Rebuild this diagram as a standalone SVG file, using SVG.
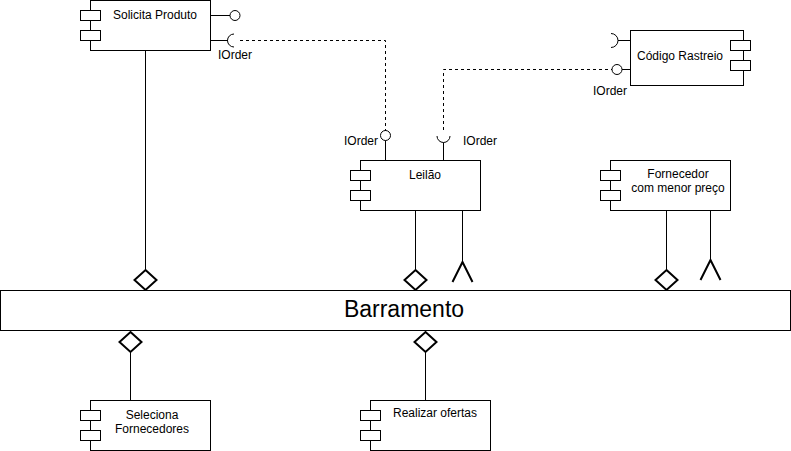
<svg xmlns="http://www.w3.org/2000/svg" width="791" height="451" viewBox="0 0 791 451">
<defs>
<style>
.box{fill:#fff;stroke:#000;stroke-width:1}
.ico{fill:#fff;stroke:#000;stroke-width:1}
.t{font-family:"Liberation Sans",Arial,sans-serif;font-size:12px;fill:#000}
.c{text-anchor:middle}
.ln{fill:none;stroke:#000;stroke-width:1}
.dash{fill:none;stroke:#000;stroke-width:1;stroke-dasharray:3 3}
.dia{fill:#fff;stroke:#000;stroke-width:2}
.arr{fill:none;stroke:#000;stroke-width:2}
</style>
</defs>
<rect width="791" height="451" fill="#fff"/>
<g id="connectors">
<path class="ln" d="M145.5,50 V270"/>
<polygon class="dia" points="145.5,270 156.5,280 145.5,290 134.5,280"/>
<path class="ln" d="M415.5,210 V270"/>
<polygon class="dia" points="415.5,270 426.5,280 415.5,290 404.5,280"/>
<path class="ln" d="M462.5,210 V262"/>
<polyline class="arr" points="452.5,282 462.5,262 472.5,282"/>
<path class="ln" d="M666.5,210 V270"/>
<polygon class="dia" points="666.5,270 677.5,280 666.5,290 655.5,280"/>
<path class="ln" d="M710.5,210 V260"/>
<polyline class="arr" points="700.5,280 710.5,260 720.5,280"/>
<polygon class="dia" points="130.5,332 141.5,342 130.5,352 119.5,342"/>
<path class="ln" d="M130.5,352 V400" stroke="#555"/>
<polygon class="dia" points="425.5,332 436.5,342 425.5,352 414.5,342"/>
<path class="ln" d="M425.5,352 V400"/>
<path class="dash" d="M240,40.5 H385.5 V131"/>
<path class="dash" d="M443.5,130 V69.5 H612"/>
</g>
<g id="solicita-produto">
<rect class="box" x="90.5" y="0.5" width="120" height="50"/>
<rect class="ico" x="80.5" y="10.5" width="20" height="10"/>
<rect class="ico" x="80.5" y="30.5" width="20" height="10"/>
<text class="t c" x="155" y="19">Solicita Produto</text>
<path class="ln" d="M210.5,15.5 H230"/>
<circle class="ln" cx="235" cy="15.5" r="5"/>
<path class="ln" d="M210.5,40.5 H228"/>
<path class="ln" d="M234,34 A6,6 0 0 0 234,47"/>
<text class="t" x="218" y="59">IOrder</text>
</g>
<g id="leilao">
<rect class="box" x="360.5" y="160.5" width="120" height="50"/>
<rect class="ico" x="350.5" y="170.5" width="20" height="10"/>
<rect class="ico" x="350.5" y="190.5" width="20" height="10"/>
<text class="t c" x="425" y="179">Leilão</text>
<circle class="ln" cx="385.5" cy="135.5" r="5"/>
<path class="ln" d="M385.5,140.5 V160"/>
<text class="t" x="378" y="145" text-anchor="end">IOrder</text>
<path class="ln" d="M437,136 A6.5,6.5 0 0 0 450,136"/>
<path class="ln" d="M443.5,142.5 V160" stroke="#555"/>
<text class="t" x="463" y="145">IOrder</text>
</g>
<g id="codigo-rastreio">
<rect class="box" x="630.5" y="30.5" width="113" height="55"/>
<rect class="ico" x="730.5" y="40.5" width="20" height="10"/>
<rect class="ico" x="730.5" y="60.5" width="20" height="10"/>
<text class="t c" x="680" y="60">Código Rastreio</text>
<path class="ln" d="M611,33.5 A7,7 0 0 1 611,47.5"/>
<path class="ln" d="M618,40.5 H630"/>
<circle class="ln" cx="617" cy="69.5" r="5"/>
<path class="ln" d="M622,69.5 H630"/>
<text class="t" x="593" y="95">IOrder</text>
</g>
<g id="fornecedor">
<rect class="box" x="610.5" y="160.5" width="120" height="50"/>
<rect class="ico" x="600.5" y="170.5" width="20" height="10"/>
<rect class="ico" x="600.5" y="190.5" width="20" height="10"/>
<text class="t c" x="678" y="178">Fornecedor</text>
<text class="t c" x="678" y="192">com menor preço</text>
</g>
<g id="barramento">
<rect class="box" x="0.5" y="290.5" width="790" height="40"/>
<text x="404" y="317" font-family="'Liberation Sans',Arial,sans-serif" font-size="23" text-anchor="middle">Barramento</text>
</g>
<g id="seleciona-fornecedores">
<rect class="box" x="90.5" y="400.5" width="120" height="50"/>
<rect class="ico" x="80.5" y="410.5" width="20" height="10"/>
<rect class="ico" x="80.5" y="430.5" width="20" height="10"/>
<text class="t c" x="152" y="419">Seleciona</text>
<text class="t c" x="152" y="433">Fornecedores</text>
</g>
<g id="realizar-ofertas">
<rect class="box" x="370.5" y="400.5" width="120" height="50"/>
<rect class="ico" x="360.5" y="410.5" width="20" height="10"/>
<rect class="ico" x="360.5" y="430.5" width="20" height="10"/>
<text class="t c" x="435" y="417">Realizar ofertas</text>
</g>
</svg>
